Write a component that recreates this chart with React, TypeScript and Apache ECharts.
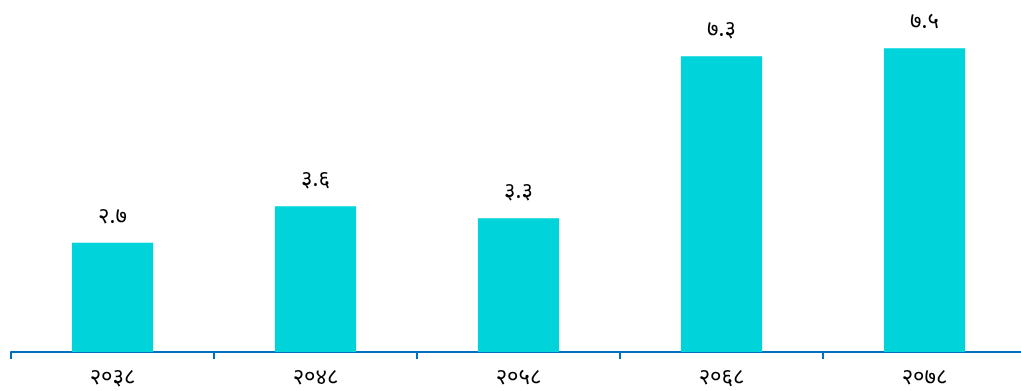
import React, { useEffect, useRef } from "react";
import * as echarts from "echarts";

const categories = ["२०३८", "२०४८", "२०५८", "२०६८", "२०७८"];
const values = [2.7, 3.6, 3.3, 7.3, 7.5];
const valueLabels = ["२.७", "३.६", "३.३", "७.३", "७.५"];

export default function App() {
  const ref = useRef<HTMLDivElement>(null);
  useEffect(() => {
    if (!ref.current) return;
    const chart = echarts.init(ref.current, undefined, { renderer: "svg" });
    chart.setOption({
      animation: false,
      grid: { left: 11, right: 0, top: 28, bottom: 39, containLabel: false },
      xAxis: {
        type: "category",
        data: categories,
        axisLine: { lineStyle: { color: "#0070C0", width: 2 } },
        axisTick: { show: true, length: 7, lineStyle: { color: "#0070C0", width: 2 } },
        axisLabel: { margin: 12, fontSize: 22, color: "#000", fontFamily: "Noto Sans, sans-serif" },
      },
      yAxis: {
        type: "value",
        min: 0,
        max: 8,
        show: false,
        splitLine: { show: false },
      },
      series: [
        {
          type: "bar",
          data: values,
          barWidth: "40%",
          itemStyle: { color: "#00D4DA" },
          label: {
            show: true,
            position: "top",
            distance: 18,
            fontSize: 22,
            color: "#000",
            fontFamily: "Noto Sans, sans-serif",
            formatter: (p: any) => valueLabels[p.dataIndex],
          },
        },
      ],
    });
    return () => chart.dispose();
  }, []);
  return <div ref={ref} style={{ position: "fixed", left: 0, top: 0, width: 1026, height: 391 }} />;
}
